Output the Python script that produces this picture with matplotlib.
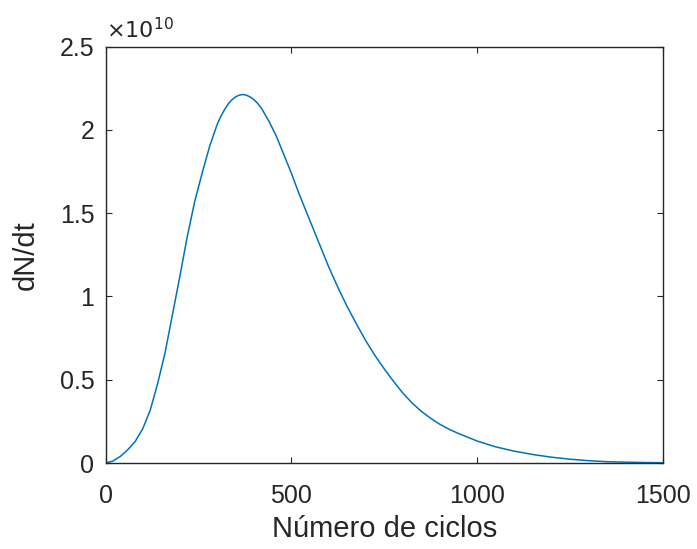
import numpy as np
import matplotlib.pyplot as plt

# dN/dt curve vs cycle number (values in units of 1e10)
ciclos = [0, 20, 40, 60, 80, 100, 120, 140, 160, 180, 200, 220, 240, 260,
          280, 300, 310, 320, 330, 340, 350, 360, 370, 380, 390, 400, 410,
          420, 440, 460, 480, 500, 520, 540, 560, 580, 600, 625, 650, 675,
          700, 725, 750, 775, 800, 825, 850, 875, 900, 925, 950, 1000, 1050,
          1100, 1150, 1200, 1250, 1300, 1350, 1400, 1450, 1500]
dndt = [0.0, 0.012, 0.04, 0.08, 0.13, 0.205, 0.315, 0.475, 0.66, 0.89, 1.12,
        1.36, 1.57, 1.74, 1.90, 2.03, 2.08, 2.12, 2.155, 2.18, 2.198, 2.208,
        2.212, 2.207, 2.196, 2.18, 2.157, 2.128, 2.05, 1.96, 1.85, 1.74,
        1.62, 1.51, 1.40, 1.29, 1.18, 1.055, 0.94, 0.835, 0.735, 0.645,
        0.565, 0.49, 0.42, 0.36, 0.31, 0.268, 0.232, 0.202, 0.177, 0.132,
        0.097, 0.071, 0.051, 0.035, 0.023, 0.014, 0.008, 0.005, 0.003,
        0.0015]

xticks = [0, 500, 1000, 1500]
yticks = [0, 0.5, 1, 1.5, 2, 2.5]
ytick_labels = ["0", "0.5", "1", "1.5", "2", "2.5"]

plt.rcParams["font.family"] = ["Liberation Sans", "DejaVu Sans"]
gris = "#262626"

fig = plt.figure(figsize=(6.97, 5.49), dpi=100)
ax = fig.add_axes([0.1514, 0.1566, 0.7998, 0.7587])

ax.plot(ciclos, dndt, color="#0072BD", linewidth=1.1)

ax.set_xlim(0, 1500)
ax.set_ylim(0, 2.5)
ax.set_xticks(xticks)
ax.set_yticks(yticks)
ax.set_yticklabels(ytick_labels)

ax.tick_params(direction="in", length=4, width=0.8, colors=gris,
               labelsize=18, top=True, right=True)
ax.tick_params(axis="x", pad=15)
ax.tick_params(axis="y", pad=8)
for s in ax.spines.values():
    s.set_color(gris)
    s.set_linewidth(1.0)

ax.set_xlabel("Número de ciclos", fontsize=21, color=gris, labelpad=5)
ax.set_ylabel("dN/dt", fontsize=21, color=gris, labelpad=14)

# exponent shown above the y axis
ax.text(0.0, 1.008, r"$\times10^{10}$", transform=ax.transAxes,
        fontsize=16, color=gris, ha="left", va="bottom")

fig.savefig("out.png", dpi=100)
